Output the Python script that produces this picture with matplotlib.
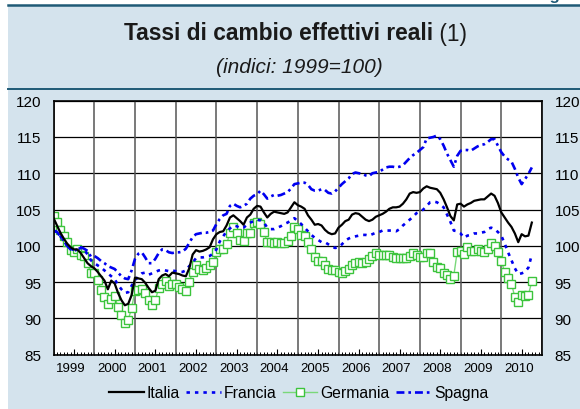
import numpy as np
import pandas as pd
import matplotlib
matplotlib.use("Agg")
import matplotlib.pyplot as plt
from matplotlib.lines import Line2D
from matplotlib.patches import Rectangle
from matplotlib.transforms import ScaledTranslation

plt.rcParams['font.family'] = ['Liberation Sans', 'DejaVu Sans']

# ---------------- data (monthly, from Jan 1999) ----------------
start_month = '1999-01'

italia = [
    103.8, 102.8, 101.8, 101.0, 100.3, 99.8, 99.5, 99.5, 99.0, 98.3, 97.6, 97.2,
    96.9, 96.4, 95.8, 95.2, 94.0, 95.2, 94.8, 93.5, 92.5, 91.8, 92.0, 93.2,
    95.6, 95.5, 95.4, 94.9, 94.2, 93.6, 93.8, 95.4, 95.9, 96.1, 95.8, 96.3,
    96.2, 96.1, 95.9, 95.8, 96.9, 98.8, 99.4, 99.2, 99.3, 99.5, 99.8, 100.9,
    101.6, 101.9, 102.0, 102.8, 103.9, 104.2, 103.8, 103.4, 102.9, 103.9, 104.3, 105.1,
    105.5, 105.4, 104.6, 103.9, 104.4, 104.7, 104.6, 104.5, 104.4, 104.6, 105.3, 106.0,
    105.6, 105.4, 105.1, 104.2, 103.6, 102.9, 103.0, 102.8, 102.2, 101.8, 101.6, 101.7,
    102.5, 102.9, 103.4, 103.6, 104.3, 104.5, 104.4, 104.0, 103.6, 103.4, 103.6, 104.0,
    104.2, 104.4, 104.7, 105.1, 105.3, 105.3, 105.4, 105.8, 106.4, 107.2, 107.4, 107.3,
    107.4, 107.9, 108.2, 108.0, 107.9, 107.8, 107.3, 106.4, 105.3, 104.1, 103.5, 105.7,
    105.8, 105.4, 105.7, 105.9, 106.2, 106.3, 106.4, 106.4, 106.8, 107.2, 106.9, 105.9,
    104.6, 103.9, 103.2, 102.6, 101.7, 100.5, 101.6, 101.3, 101.4, 103.2,
]

francia = [
    102.1, 101.9, 101.3, 100.7, 100.0, 99.6, 99.4, 99.5, 99.7, 99.5, 98.8, 98.0,
    97.6, 97.3, 97.0, 96.6, 96.2, 95.8, 95.4, 94.6, 94.0, 93.5, 93.6, 94.5,
    95.2, 95.8, 96.2, 96.3, 96.0, 96.2, 96.4, 96.6, 96.7, 96.6, 96.5, 96.6,
    96.5, 96.4, 96.4, 96.6, 97.2, 97.7, 98.3, 98.4, 98.4, 98.5, 98.6, 98.9,
    99.5, 100.6, 101.3, 102.0, 102.4, 102.8, 102.7, 102.4, 102.5, 102.9, 103.2, 103.4,
    103.6, 103.5, 103.2, 102.5, 102.3, 102.3, 102.5, 102.7, 103.0, 103.2, 103.5, 103.8,
    103.4, 103.0, 102.5, 102.0, 101.5, 101.1, 100.8, 100.5, 100.5, 100.2, 99.9, 99.7,
    99.8, 100.2, 100.7, 101.0, 101.2, 101.3, 101.4, 101.5, 101.5, 101.4, 101.6, 101.8,
    101.9, 102.1, 102.1, 102.1, 102.1, 102.0, 102.3, 102.8, 103.2, 103.6, 104.0, 104.5,
    104.7, 105.0, 105.5, 106.0, 106.1, 106.0, 105.7, 105.3, 104.3, 103.3, 102.1, 102.0,
    101.7, 101.1, 101.4, 101.5, 101.7, 101.7, 101.8, 101.9, 102.3, 102.5, 102.3, 101.9,
    101.4, 100.3, 99.1, 98.0, 96.9, 96.1, 96.2, 96.4, 97.0, 98.8,
]

germania = [
    104.1, 103.3, 102.2, 101.3, 100.5, 99.4, 99.1, 99.5, 98.7, 98.6, 97.6, 96.2,
    96.3, 95.3, 93.9, 93.0, 92.0, 92.7, 93.1, 91.5, 90.4, 89.3, 89.8, 91.4,
    93.8, 93.9, 94.0, 93.5, 92.5, 91.8, 92.5, 94.2, 94.7, 95.1, 94.4, 94.8,
    94.7, 94.3, 94.1, 93.7, 95.0, 96.4, 97.3, 96.8, 96.7, 97.0, 97.3, 97.7,
    99.1, 99.5, 99.6, 100.2, 101.8, 102.6, 101.8, 100.8, 100.7, 101.8, 101.8, 103.1,
    103.3, 103.0, 101.9, 100.5, 100.5, 100.4, 100.5, 100.4, 100.4, 100.7, 101.4, 102.6,
    102.3, 101.5, 101.4, 100.5, 99.6, 98.4, 97.9, 97.9, 97.3, 96.8, 96.7, 96.7,
    96.4, 96.3, 96.5, 96.8, 97.3, 97.6, 97.7, 97.6, 97.7, 98.2, 98.6, 99.0,
    98.7, 98.7, 98.7, 98.7, 98.4, 98.3, 98.3, 98.3, 98.3, 98.6, 99.0, 98.7,
    98.4, 98.5, 99.0, 99.0, 97.8, 97.1, 97.0, 96.3, 96.0, 95.4, 95.9, 99.2,
    99.3, 98.9, 99.9, 99.3, 99.3, 99.5, 99.3, 99.2, 99.6, 100.4, 100.0, 99.2,
    97.9, 96.4, 95.6, 94.8, 92.9, 92.2, 93.2, 93.1, 93.25, 95.1,
]

spagna = [
    102.1, 101.9, 101.3, 100.7, 100.0, 99.5, 99.3, 99.5, 99.8, 99.6, 99.3, 98.5,
    98.6, 98.3, 97.9, 97.6, 97.2, 97.0, 96.8, 96.3, 95.8, 95.5, 95.4, 96.6,
    98.2, 98.9, 99.1, 98.4, 97.6, 97.6, 98.2, 99.0, 99.5, 99.4, 99.1, 99.0,
    99.1, 99.1, 99.2, 99.6, 100.4, 101.2, 101.6, 101.7, 101.8, 101.8, 101.9, 102.1,
    103.0, 103.7, 104.2, 104.4, 105.5, 105.8, 105.5, 105.3, 105.5, 105.8, 106.5, 106.9,
    107.1, 107.6, 107.1, 106.5, 106.8, 107.0, 106.9, 107.0, 107.2, 107.4, 107.9, 108.5,
    108.6, 108.7, 108.7, 108.4, 107.8, 107.6, 107.6, 107.8, 107.7, 107.3, 107.2, 107.5,
    108.0, 108.5, 108.9, 109.3, 109.9, 110.1, 110.0, 109.9, 109.7, 109.6, 110.0, 110.1,
    110.2, 110.5, 110.8, 110.9, 110.9, 110.8, 110.9, 111.1, 111.6, 112.1, 112.5, 112.8,
    113.2, 113.6, 114.8, 114.9, 115.0, 115.2, 114.7, 113.8, 112.7, 111.8, 110.9, 112.4,
    113.1, 113.2, 113.2, 113.1, 113.4, 113.7, 113.9, 114.0, 114.3, 114.7, 114.7, 113.8,
    112.9, 112.3, 111.9, 111.6, 110.6, 109.4, 108.5, 109.2, 109.9, 110.8,
]

year_labels = ['1999', '2000', '2001', '2002', '2003', '2004',
               '2005', '2006', '2007', '2008', '2009', '2010']
y_ticks = [85, 90, 95, 100, 105, 110, 115, 120]
series_names = ['Italia', 'Francia', 'Germania', 'Spagna']

title_bold = 'Tassi di cambio effettivi reali'
title_reg = ' (1)'
subtitle = '(indici: 1999=100)'
corner_tag = 'Figura'

# ---------------- figure ----------------
W, H = 580, 410
fig = plt.figure(figsize=(W / 100, H / 100), dpi=100)
fig.patch.set_facecolor('white')

panel = '#d4e3ed'
rule = '#1f5a76'
fig.patches.append(Rectangle((8 / W, 0), 1 - 8 / W, 1 - 6 / H,
                             transform=fig.transFigure, facecolor=panel,
                             edgecolor='none', zorder=-5))
fig.add_artist(Line2D([8 / W, 1], [1 - 5.5 / H] * 2, color=rule, lw=1.8,
                      transform=fig.transFigure, zorder=-4))
fig.add_artist(Line2D([8 / W, 1], [1 - 89.5 / H] * 2, color=rule, lw=1.4,
                      transform=fig.transFigure, zorder=-4))
# the corner tag is cut by the top edge in the reference: only the descender shows
fig.text(536 / W, 1.0, corner_tag, color=rule, fontsize=12,
         fontweight='bold', ha='left', va='baseline')

# titles
fig.text(433 / W, 1 - 40.5 / H, title_bold, fontsize=16.4, fontweight='bold',
         ha='right', va='baseline', color='#1a1a1a')
fig.text(433 / W, 1 - 40.5 / H, title_reg, fontsize=16.4,
         ha='left', va='baseline', color='#1a1a1a')
fig.text(299 / W, 1 - 73.5 / H, subtitle, fontsize=15, style='italic',
         ha='center', va='baseline', color='#1a1a1a')

# axes
ax = fig.add_axes([53.6 / W, 1 - 355.6 / H, (542 - 53.6) / W, (355.6 - 101.7) / H])
ax.set_facecolor('white')
ax.set_zorder(2)

dates = pd.date_range(start_month, periods=len(italia), freq='MS')
t = dates.year + (dates.month - 1) / 12.0

blue = '#0000f0'
green_edge = '#3cc43c'
green_line = '#7ad87a'

ax.plot(t, germania, color=green_line, lw=1.0, marker='s', markersize=5.2,
        markerfacecolor='white', markeredgecolor=green_edge,
        markeredgewidth=1.0, zorder=3, label='Germania')
ax.plot(t, francia, color=blue, lw=1.9, linestyle=(0, (1.3, 1.9)),
        zorder=4, label='Francia')
ax.plot(t, spagna, color=blue, lw=1.9, linestyle=(0, (3.0, 1.5, 1.0, 1.5)),
        zorder=4, label='Spagna')
ax.plot(t, italia, color='black', lw=1.6, zorder=5, label='Italia')

first_year = int(year_labels[0])
last_year = int(year_labels[-1]) + 1
ax.set_xlim(first_year, last_year)
ax.set_ylim(y_ticks[0], y_ticks[-1])

# year boundaries (grid)
for yr in range(first_year, last_year + 1):
    ax.axvline(yr, color='#555555', lw=1.1, zorder=1)

# mid-year major ticks with labels, monthly minor ticks
ax.set_xticks([int(y) + 0.5 for y in year_labels])
ax.set_xticklabels(year_labels)
ax.set_xticks(np.arange(first_year, last_year, 1 / 12.0), minor=True)
ax.tick_params(axis='x', which='major', direction='in', length=4.0, width=0.8,
               labelsize=9.5, pad=5, top=False)
ax.tick_params(axis='x', which='minor', direction='in', length=2.4, width=0.7,
               top=False)
for lbl in ax.get_xticklabels():
    lbl.set_transform(lbl.get_transform() +
                      ScaledTranslation(-3 / 100, 0, fig.dpi_scale_trans))

ax.set_yticks(y_ticks)
ax.set_yticklabels([str(v) for v in y_ticks])
ax.tick_params(axis='y', which='both', length=0, labelsize=11,
               labelleft=True, labelright=True, pad=9)
ax.grid(axis='y', color='black', lw=0.9, zorder=1)
ax.set_axisbelow(True)

for sp in ax.spines.values():
    sp.set_color('black')
    sp.set_linewidth(1.2)
    sp.set_zorder(6)

# legend
handles, labels = ax.get_legend_handles_labels()
order = [labels.index(n) for n in series_names]
leg = fig.legend([handles[i] for i in order], [labels[i] for i in order],
                 loc='center', bbox_to_anchor=(298.5 / W, 1 - 393.5 / H), ncol=4,
                 frameon=False, fontsize=11.3, handlelength=2.2,
                 handletextpad=0.2, columnspacing=0.4, borderaxespad=0,
                 borderpad=0)
for h in leg.legend_handles:
    if hasattr(h, 'set_markevery'):
        h.set_markevery([1])

fig.savefig('out.png', dpi=100, facecolor=fig.get_facecolor())
